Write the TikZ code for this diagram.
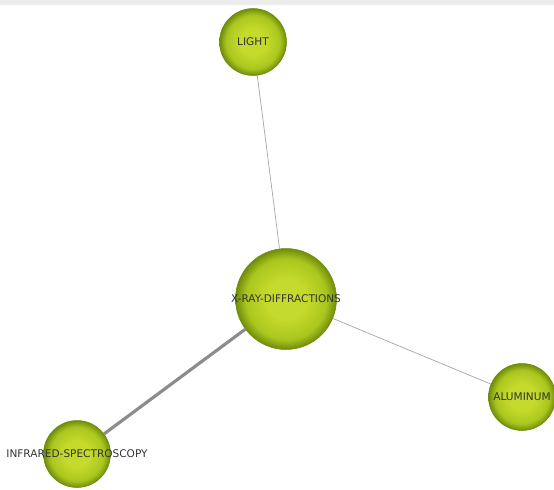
\documentclass[tikz,border=0pt]{standalone}
\usepackage{fontspec}
\setmainfont{DejaVu Sans}
\usetikzlibrary{positioning}

\definecolor{ballhi}{RGB}{196,218,44}
\definecolor{ballmid}{RGB}{170,198,30}
\definecolor{balllo}{RGB}{112,140,12}
\pgfdeclareradialshading{ballshade}{\pgfpoint{0bp}{0bp}}{color(0bp)=(ballhi); color(10bp)=(ballhi); color(20bp)=(ballmid); color(25bp)=(balllo); color(50bp)=(balllo)}

\begin{document}
\begin{tikzpicture}[on grid,node distance=2cm,
   ball/.style={circle,shading=ballshade,draw=balllo,line width=0.3pt,minimum size=1.34cm,inner sep=0pt},
   bigball/.style={ball,minimum size=2.02cm},
   tag/.style={font=\fontsize{6}{7}\selectfont,text=black!80,inner sep=0pt},
   link/.style={draw=gray!70,line width=0.4pt},
   heavy/.style={draw=gray!90,line width=1.8pt}]
   \useasboundingbox (-5.72,-3.8) rectangle (5.36,5.98);
   \fill[gray!15] (-5.72,5.88) rectangle (5.36,5.98);
   \node[bigball,label={[tag]center:X-RAY-DIFFRACTIONS}] (xray) at (0,0) {};
   \node[ball,label={[tag]center:LIGHT}] (light) [above left=5.14cm and 0.66cm of xray] {};
   \node[ball,label={[tag]center:ALUMINUM}] (alum) [below right=1.96cm and 4.72cm of xray] {};
   \node[ball,label={[tag]center:INFRARED-SPECTROSCOPY}] (infra) [below left=3.1cm and 4.18cm of xray] {};
    \path
    (xray) edge[link] (light)
    (xray) edge[link] (alum)
    (xray) edge[heavy] (infra);
\end{tikzpicture}
\end{document}
